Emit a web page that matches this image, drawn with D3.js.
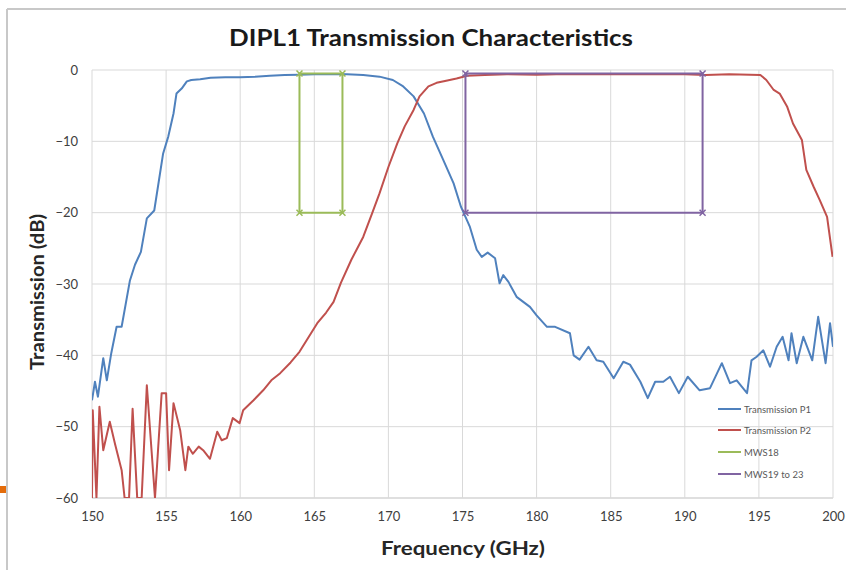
<!DOCTYPE html>
<html>
<head>
<meta charset="utf-8">
<script src="https://cdn.jsdelivr.net/npm/d3@7"></script>
<style>
  html, body { margin: 0; padding: 0; background: #fff; }
  svg { display: block; }
</style>
</head>
<body>
<svg id="chart" width="846" height="570"></svg>
<script>
// ---------- DATA ----------
const title = "DIPL1 Transmission Characteristics";
const xTicks = [150, 155, 160, 165, 170, 175, 180, 185, 190, 195, 200];
const yTicks = [0, -10, -20, -30, -40, -50, -60];
const seriesNames = ["Transmission P1", "Transmission P2", "MWS18", "MWS19 to 23"];

const freqP1 = [150.0,150.2,150.4,150.76,151.0,151.3,151.66,152.0,152.56,152.9,153.3,153.7,154.2,154.8,155.15,155.5,155.7,156.05,156.4,156.7,157.3,158.0,159.0,160.0,161.0,162.0,163.0,164.0,165.0,166.0,167.2,168.3,169.4,170.3,171.0,171.7,172.4,173.0,173.7,174.4,174.9,175.5,175.96,176.3,176.7,177.2,177.5,177.75,178.1,178.65,179.55,180.0,180.7,181.25,182.25,182.5,182.9,183.5,184.05,184.5,185.2,185.85,186.3,187.0,187.5,188.0,188.55,189.0,189.6,190.2,191.0,191.7,192.5,193.05,193.5,194.2,194.5,194.85,195.3,195.75,196.2,196.6,197.0,197.2,197.55,198.0,198.6,199.0,199.5,199.8,200.0];
const dbP1 = [-46.3,-43.7,-45.8,-40.4,-43.5,-39.7,-36.0,-36.0,-29.5,-27.3,-25.5,-20.8,-19.7,-11.7,-9.3,-6.1,-3.3,-2.6,-1.6,-1.4,-1.3,-1.1,-1.0,-1.0,-0.95,-0.8,-0.7,-0.65,-0.6,-0.55,-0.6,-0.7,-0.93,-1.4,-2.3,-3.7,-6.1,-9.35,-12.6,-15.9,-19.2,-22.0,-25.2,-26.2,-25.6,-26.4,-29.9,-28.75,-29.7,-31.8,-33.2,-34.4,-36.0,-36.0,-36.9,-40.0,-40.6,-38.8,-40.7,-40.9,-43.2,-40.9,-41.3,-43.7,-46.0,-43.7,-43.7,-43.0,-45.3,-43.0,-44.9,-44.6,-41.1,-43.9,-43.5,-45.3,-40.7,-40.2,-39.3,-41.6,-38.8,-37.4,-40.7,-36.9,-41.1,-37.4,-40.7,-34.6,-41.1,-35.5,-38.8];

const freqP2 = [150.0,150.05,150.3,150.5,150.76,151.2,151.55,152.0,152.2,152.5,152.74,153.05,153.35,153.7,154.25,154.7,155.0,155.2,155.5,155.95,156.3,156.5,156.8,157.2,157.5,157.96,158.45,158.75,159.1,159.5,159.96,160.2,160.9,161.55,162.1,162.7,163.4,164.0,164.6,165.2,165.8,166.3,166.8,167.5,168.3,168.9,169.4,170.0,170.6,171.1,171.7,172.1,172.7,173.25,173.9,174.6,175.3,176.5,178.0,180.0,182.0,184.0,186.0,188.0,190.0,191.4,193.0,195.1,195.5,196.0,196.4,196.9,197.3,197.9,198.2,198.7,199.1,199.6,199.97];
const dbP2 = [-60,-47.7,-60,-47.2,-53.3,-49.3,-52.4,-56.1,-60,-60,-47.5,-60,-60,-44.2,-60,-45.3,-45.3,-56.1,-46.7,-50.5,-56.1,-52.8,-53.8,-52.8,-53.3,-54.5,-50.7,-51.9,-51.6,-48.8,-49.5,-47.7,-46.3,-44.9,-43.5,-42.5,-41.0,-39.5,-37.5,-35.5,-34.0,-32.5,-29.8,-26.6,-23.4,-20.1,-17.3,-13.6,-10.3,-7.9,-5.6,-3.7,-2.3,-1.8,-1.5,-1.2,-0.8,-0.7,-0.6,-0.65,-0.55,-0.6,-0.55,-0.6,-0.6,-0.7,-0.6,-0.7,-1.4,-2.8,-3.3,-5.1,-7.5,-9.8,-14.0,-16.4,-18.2,-20.6,-26.2];

const freqMWS18 = [164.0, 164.0, 166.9, 166.9, 164.0];
const dbMWS18 = [-20, -0.5, -0.5, -20, -20];
const freqMWS19 = [175.2, 175.2, 191.2, 191.2, 175.2];
const dbMWS19 = [-20, -0.5, -0.5, -20, -20];

const colors = ["#4F81BD", "#C0504D", "#9BBB59", "#8064A2"];

// ---------- CHART ----------
const svg = d3.select("#chart");
const x = d3.scaleLinear().domain([150, 200]).range([92, 833]);
const y = d3.scaleLinear().domain([0, -60]).range([70, 498]);

// outer frame
svg.append("line").attr("x1", 7).attr("x2", 7).attr("y1", 9).attr("y2", 570)
  .attr("stroke", "#c8c8c8").attr("stroke-width", 2);
svg.append("line").attr("x1", 7).attr("x2", 846).attr("y1", 9).attr("y2", 9)
  .attr("stroke", "#c8c8c8").attr("stroke-width", 2);
svg.append("rect").attr("x", 0).attr("y", 486).attr("width", 6).attr("height", 7)
  .attr("fill", "#E46C0A");

// gridlines
const grid = svg.append("g");
grid.selectAll(".hg").data(yTicks).join("line")
  .attr("x1", x(150)).attr("x2", x(200))
  .attr("y1", d => y(d)).attr("y2", d => y(d))
  .attr("stroke", d => d === -60 ? "#bfbfbf" : "#d9d9d9").attr("stroke-width", 1);
grid.selectAll(".vg").data(xTicks).join("line")
  .attr("x1", d => x(d)).attr("x2", d => x(d))
  .attr("y1", y(0)).attr("y2", y(-60))
  .attr("stroke", "#d9d9d9").attr("stroke-width", 1);

// axes (labels only, via d3 axes)
const xAxis = svg.append("g").attr("transform", `translate(0,${y(-60)})`)
  .call(d3.axisBottom(x).tickValues(xTicks).tickSize(0).tickPadding(14).tickFormat(d3.format("d")));
const yAxis = svg.append("g").attr("transform", `translate(${x(150)},0)`)
  .call(d3.axisLeft(y).tickValues(yTicks).tickSize(0).tickPadding(14).tickFormat(d3.format("d")));
[xAxis, yAxis].forEach(a => {
  a.select(".domain").remove();
  a.selectAll("text").attr("font-family", "Lato, 'Open Sans', sans-serif")
    .attr("font-size", 13).attr("fill", "#404040");
});

// series
const line = d3.line().x(d => x(d[0])).y(d => y(d[1]));
const zip = (a, b) => a.map((v, i) => [v, b[i]]);
const clip = svg.append("clipPath").attr("id", "clip").append("rect")
  .attr("x", x(150)).attr("y", y(0) - 5).attr("width", x(200) - x(150)).attr("height", y(-60) - y(0) + 5);

const plot = svg.append("g").attr("clip-path", "url(#clip)");
plot.append("path").datum(zip(freqP1, dbP1)).attr("d", line)
  .attr("fill", "none").attr("stroke", colors[0]).attr("stroke-width", 2).attr("stroke-linejoin", "round");
plot.append("path").datum(zip(freqP2, dbP2)).attr("d", line)
  .attr("fill", "none").attr("stroke", colors[1]).attr("stroke-width", 2).attr("stroke-linejoin", "round");

function rectSeries(fx, fy, col) {
  const pts = zip(fx, fy);
  svg.append("path").datum(pts).attr("d", line)
    .attr("fill", "none").attr("stroke", col).attr("stroke-width", 2);
  svg.append("g").selectAll("path").data(pts.slice(0, 4)).join("path")
    .attr("transform", d => `translate(${x(d[0])},${y(d[1])})`)
    .attr("d", "M-3,-3L3,3M-3,3L3,-3")
    .attr("stroke", col).attr("stroke-width", 1.5).attr("fill", "none");
}
rectSeries(freqMWS18, dbMWS18, colors[2]);
rectSeries(freqMWS19, dbMWS19, colors[3]);

// title
svg.append("text").attr("x", 431).attr("y", 46).attr("text-anchor", "middle")
  .attr("font-family", "Lato, 'Open Sans', sans-serif").attr("font-weight", "bold")
  .attr("font-size", 22).attr("fill", "#1a1a1a")
  .attr("textLength", 404).attr("lengthAdjust", "spacingAndGlyphs")
  .text(title);

// axis titles
svg.append("text").attr("x", 463).attr("y", 555).attr("text-anchor", "middle")
  .attr("font-family", "Lato, 'Open Sans', sans-serif").attr("font-weight", "bold")
  .attr("font-size", 18).attr("fill", "#262626")
  .attr("textLength", 164).attr("lengthAdjust", "spacingAndGlyphs")
  .text("Frequency (GHz)");
svg.append("text").attr("transform", "translate(44,292) rotate(-90)").attr("text-anchor", "middle")
  .attr("font-family", "Lato, 'Open Sans', sans-serif").attr("font-weight", "bold")
  .attr("font-size", 18).attr("fill", "#262626")
  .attr("textLength", 156).attr("lengthAdjust", "spacingAndGlyphs")
  .text("Transmission (dB)");

// legend
const legend = svg.append("g");
const legY = [409, 430, 452, 474];
seriesNames.forEach((name, i) => {
  legend.append("line").attr("x1", 718).attr("x2", 741).attr("y1", legY[i]).attr("y2", legY[i])
    .attr("stroke", colors[i]).attr("stroke-width", 2);
  legend.append("text").attr("x", 744).attr("y", legY[i] + 3.5)
    .attr("font-family", "Lato, 'Open Sans', sans-serif").attr("font-size", 9.5)
    .attr("fill", "#595959").text(name);
});
</script>
</body>
</html>
